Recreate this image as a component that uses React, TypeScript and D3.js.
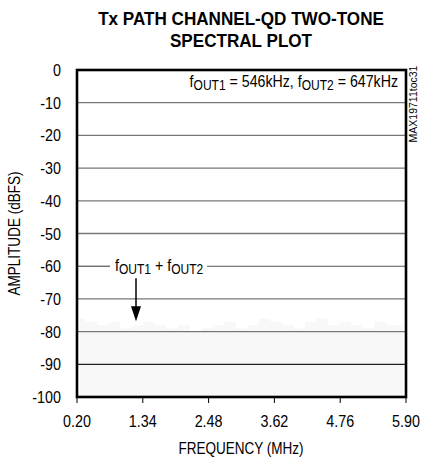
import React from "react";
import * as d3 from "d3";

const xTicks = [0.2, 1.34, 2.48, 3.62, 4.76, 5.9];
const yTicks = [0, -10, -20, -30, -40, -50, -60, -70, -80, -90, -100];
// faint noise floor (dBFS) sampled across the band
const noiseFreq = [0.25, 0.45, 0.65, 0.85, 1.05, 1.25, 1.45, 1.65, 1.85, 2.05, 2.25, 2.45, 2.65, 2.85, 3.05, 3.25, 3.45, 3.65, 3.85, 4.05, 4.25, 4.45, 4.65, 4.85, 5.05, 5.25, 5.45, 5.65, 5.85];
const noiseDb = [-76, -77, -78, -77, -79, -78, -77, -78, -79, -78, -80, -79, -78, -77, -79, -78, -76, -77, -78, -79, -77, -76, -78, -77, -78, -79, -77, -78, -78];

const FONT = "'Liberation Sans', Arial, sans-serif";

type TP = { x: number; y: number; sx?: number; size?: number; anchor?: string; weight?: string; rot?: number; children: React.ReactNode };
function T({ x, y, sx = 0.86, size = 16.3, anchor = "start", weight = "normal", rot = 0, children }: TP) {
  return (
    <text
      transform={`translate(${x},${y}) rotate(${rot}) scale(${sx},1)`}
      textAnchor={anchor}
      fontFamily={FONT}
      fontSize={size}
      fontWeight={weight}
      fill="#000"
    >
      {children}
    </text>
  );
}

export default function App() {
  const W = 422, H = 460;
  const L = 77, R = 406, T0 = 70, B = 397;
  const x = d3.scaleLinear().domain([0.2, 5.9]).range([L, R]);
  const y = d3.scaleLinear().domain([-100, 0]).range([B, T0]);

  const noiseArea = d3.area<number>()
    .x((_, i) => x(noiseFreq[i]))
    .y0(y(-100))
    .y1((d) => y(d))
    .curve(d3.curveStep);

  const annY = y(-60);
  const arrowX = 136;
  const tipY = y(-76.8);

  return (
    <svg width={W} height={H} style={{ position: "absolute", left: 0, top: 0, background: "#fff" }}>
      <rect width={W} height={H} fill="#fff" />
      <T x={241} y={24.5} size={19} sx={0.9} anchor="middle" weight="bold">Tx PATH CHANNEL-QD TWO-TONE</T>
      <T x={241} y={47} size={19} sx={0.9} anchor="middle" weight="bold">SPECTRAL PLOT</T>

      <path d={noiseArea(noiseDb) || ""} fill="#f8f8f8" />

      {yTicks.filter((t) => t !== 0 && t !== -100 && t !== -60).map((t) => (
        <line key={t} x1={L} x2={R} y1={y(t)} y2={y(t)} stroke={t === -90 ? "#222" : "#777"} strokeWidth={1.3} />
      ))}
      {/* -60 gridline interrupted by annotation */}
      <line x1={L} x2={110} y1={annY} y2={annY} stroke="#333" strokeWidth={1} />
      <line x1={207} x2={R} y1={annY} y2={annY} stroke="#555" strokeWidth={1.1} />

      <rect x={L} y={T0} width={R - L} height={B - T0} fill="none" stroke="#000" strokeWidth={2.6} />

      {xTicks.map((t) => (
        <g key={t}>
          <line x1={x(t)} x2={x(t)} y1={B} y2={B + 6} stroke="#000" strokeWidth={1} />
          <T x={x(t)} y={426.7} anchor="middle" sx={0.88}>{t.toFixed(2)}</T>
        </g>
      ))}
      {yTicks.map((t) => (
        <T key={t} x={61} y={y(t) + 6} anchor="end" sx={0.88}>{String(t)}</T>
      ))}

      <T x={241} y={453.5} anchor="middle" sx={0.83}>FREQUENCY (MHz)</T>
      <T x={20} y={(T0 + B) / 2} anchor="middle" sx={0.83} rot={-90}>AMPLITUDE (dBFS)</T>

      <T x={398} y={87} anchor="end" size={16.5} sx={0.86}>
        <tspan>f</tspan><tspan fontSize={14} dy={2.5}>OUT1</tspan><tspan dy={-2.5}> = 546kHz, f</tspan><tspan fontSize={14} dy={2.5}>OUT2</tspan><tspan dy={-2.5}> = 647kHz</tspan>
      </T>

      <T x={417} y={104} anchor="middle" size={10.5} sx={1} rot={-90}>MAX19711toc31</T>

      <T x={115} y={annY + 5} size={16.5} sx={0.86}>
        <tspan>f</tspan><tspan fontSize={14} dy={2.5}>OUT1</tspan><tspan dy={-2.5}> + f</tspan><tspan fontSize={14} dy={2.5}>OUT2</tspan>
      </T>
      <line x1={arrowX} x2={arrowX} y1={annY + 12} y2={tipY - 10} stroke="#000" strokeWidth={1.5} />
      <path d={`M${arrowX - 5},${tipY - 15} L${arrowX + 5},${tipY - 15} L${arrowX},${tipY} Z`} fill="#000" />
    </svg>
  );
}
